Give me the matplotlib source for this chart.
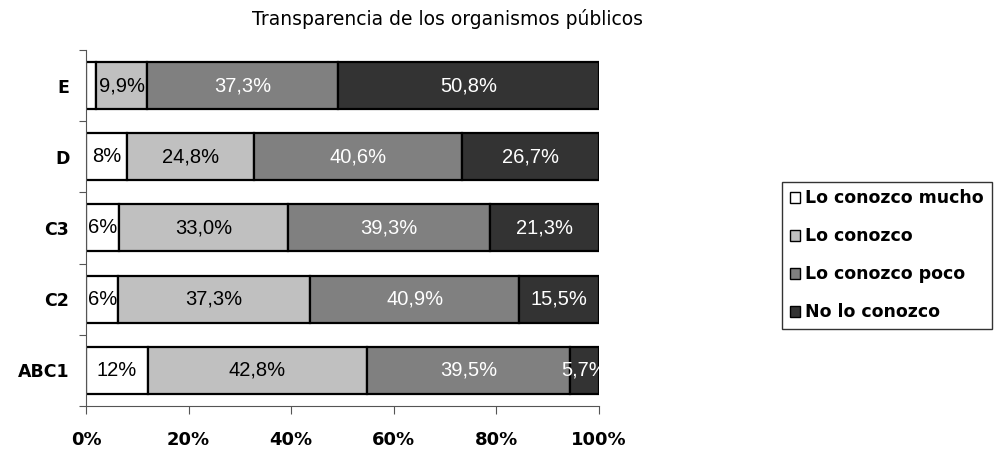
import matplotlib.pyplot as plt
import numpy as np

categories = ['ABC1', 'C2', 'C3', 'D', 'E']
series_names = ['Lo conozco mucho', 'Lo conozco', 'Lo conozco poco', 'No lo conozco']
mucho = [12.0, 6.3, 6.4, 7.9, 2.0]
conozco = [42.8, 37.3, 33.0, 24.8, 9.9]
poco = [39.5, 40.9, 39.3, 40.6, 37.3]
no_conozco = [5.7, 15.5, 21.3, 26.7, 50.8]
mucho_labels = ['12%', '6%', '6%', '8%', '']
conozco_labels = ['42,8%', '37,3%', '33,0%', '24,8%', '9,9%']
poco_labels = ['39,5%', '40,9%', '39,3%', '40,6%', '37,3%']
no_labels = ['5,7%', '15,5%', '21,3%', '26,7%', '50,8%']

series = [mucho, conozco, poco, no_conozco]
labels = [mucho_labels, conozco_labels, poco_labels, no_labels]
colors = ['#ffffff', '#c0c0c0', '#808080', '#333333']
text_colors = ['black', 'black', 'white', 'white']

fig = plt.figure(figsize=(10, 4.54), dpi=100)
ax = fig.add_axes([0.086, 0.106, 0.513, 0.784])

y = np.arange(len(categories))
left = np.zeros(len(categories))
for vals, lab, col, tc, name in zip(series, labels, colors, text_colors, series_names):
    vals = np.array(vals)
    ax.barh(y, vals, left=left, height=0.66, color=col, edgecolor='black',
            linewidth=1.6, label=name)
    for yi, (l, v, t) in enumerate(zip(left, vals, lab)):
        if t:
            ax.text(l + v / 2, yi, t, ha='center', va='center', fontsize=14.5,
                    color=tc, clip_on=False, family='Liberation Sans')
    left = left + vals

ax.set_xlim(0, 100)
ax.set_ylim(-0.5, len(categories) - 0.5)
ax.set_xticks([0, 20, 40, 60, 80, 100])
ax.set_xticklabels(['0%', '20%', '40%', '60%', '80%', '100%'],
                   fontweight='bold', fontsize=13)
ax.set_yticks(y)
ax.set_yticklabels(categories, fontweight='bold', fontsize=12.5)
ax.set_yticks(np.arange(-0.5, len(categories)), minor=True)
ax.tick_params(axis='y', which='major', length=0, pad=12)
ax.tick_params(axis='y', which='minor', length=5, width=0.8, color='#555555')
ax.tick_params(axis='x', length=6, width=0.8, color='#555555', pad=12)
for s in ['top', 'right']:
    ax.spines[s].set_visible(False)
for s in ['left', 'bottom']:
    ax.spines[s].set_color('#555555')
    ax.spines[s].set_linewidth(0.8)

fig.text(0.448, 0.958, 'Transparencia de los organismos públicos',
         ha='center', va='center', fontsize=13.5)

leg = fig.legend(loc='upper left', bbox_to_anchor=(0.782, 0.6), frameon=True,
                 fancybox=False, edgecolor='black', handlelength=0.6,
                 handleheight=0.6, handletextpad=0.3, labelspacing=1.15,
                 borderpad=0.45, borderaxespad=0,
                 prop={'weight': 'bold', 'size': 12.5})
leg.get_frame().set_linewidth(1.0)
for h in leg.legend_handles:
    h.set_linewidth(1.0)

plt.savefig('out.png', dpi=100)
